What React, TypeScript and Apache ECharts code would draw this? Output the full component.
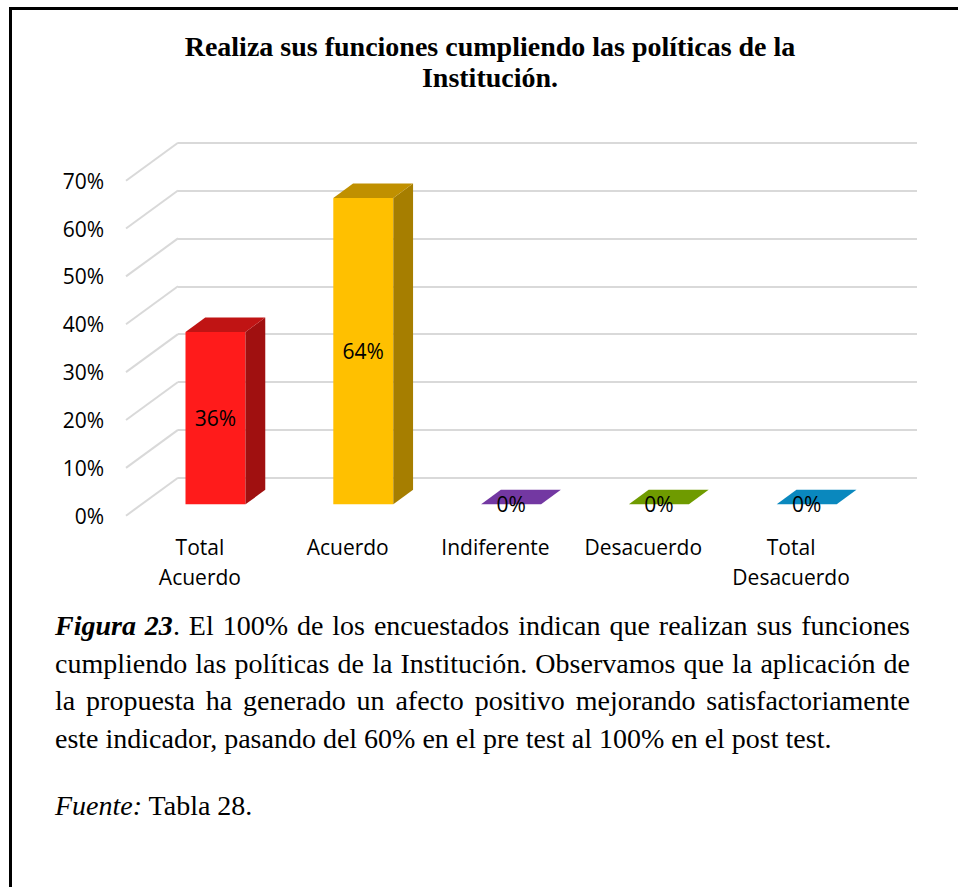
import React, { useEffect, useRef } from "react";
import * as echarts from "echarts";

const categories = ["Total Acuerdo", "Acuerdo", "Indiferente", "Desacuerdo", "Total Desacuerdo"];
const values = [36, 64, 0, 0, 0];
const yTicks = [0, 10, 20, 30, 40, 50, 60, 70];
const frontColors = ["#FF1B1B", "#FFC000", "#9245C8", "#8CC000", "#10A8E8"];
const topColors = ["#C01414", "#C09000", "#7338A2", "#6F9B00", "#0A88BE"];
const sideColors = ["#A01010", "#A67E00", "#5A2880", "#587C00", "#086C98"];
const titleText = "Realiza sus funciones cumpliendo las políticas de la\nInstitución.";

const DEPTH = [-52, 38];
const FRONT = 0.7;
const BACK = 0.32;
const BAR_HALF = 0.203;
const LABEL_FONT = '21px "Open Sans"';

export default function App() {
  const ref = useRef<HTMLDivElement>(null);

  useEffect(() => {
    if (!ref.current) return;
    const chart = echarts.init(ref.current, undefined, { renderer: "svg" });
    const option: any = {
      animation: false,
      backgroundColor: "#fff",
      grid: [
        { left: 178, top: 142.7, width: 739, height: 335 },
        { left: 126, top: 180.7, width: 739, height: 335 },
      ],
      xAxis: [
        {
          gridIndex: 0,
          type: "category",
          data: categories,
          axisLine: { show: false },
          axisTick: { show: false },
          axisLabel: { show: false },
        },
        {
          gridIndex: 1,
          type: "category",
          data: categories,
          axisLine: { show: false },
          axisTick: { show: false },
          axisLabel: {
            interval: 0,
            margin: 16,
            color: "#000",
            fontFamily: "Open Sans",
            fontSize: 21,
            lineHeight: 30,
            formatter: (v: string) => v.replace("Total ", "Total\n"),
          },
        },
      ],
      yAxis: [
        {
          gridIndex: 0,
          type: "value",
          min: 0,
          max: 70,
          interval: 10,
          axisLine: { show: false },
          axisTick: { show: false },
          axisLabel: { show: false },
          splitLine: { show: true, lineStyle: { color: "#d9d9d9", width: 2 } },
        },
        {
          gridIndex: 1,
          type: "value",
          min: 0,
          max: 70,
          interval: 10,
          axisLine: { show: false },
          axisTick: { show: false },
          splitLine: { show: false },
          axisLabel: {
            margin: 22,
            color: "#000",
            fontFamily: "Open Sans",
            fontSize: 21,
            formatter: "{value}%",
          },
        },
      ],
      series: [
        {
          type: "custom",
          xAxisIndex: 0,
          yAxisIndex: 0,
          clip: false,
          z: 1,
          data: yTicks.map((v) => [0, v]),
          renderItem: (params: any, api: any) => {
            const y = api.coord([0, api.value(1)])[1];
            const x0 = params.coordSys.x;
            return {
              type: "line",
              shape: { x1: x0, y1: y, x2: x0 + DEPTH[0], y2: y + DEPTH[1] },
              style: { stroke: "#d9d9d9", lineWidth: 2 },
            };
          },
        },
        {
          type: "custom",
          xAxisIndex: 0,
          yAxisIndex: 0,
          clip: false,
          z: 5,
          data: values.map((v, i) => [i, v]),
          renderItem: (params: any, api: any) => {
            const cat = api.value(0);
            const v = api.value(1);
            const idx = params.dataIndex;
            const base = api.coord([cat, 0]);
            const top = api.coord([cat, v]);
            const band = api.size([1, 0])[0];
            const hw = band * BAR_HALF;
            const fx = base[0] + DEPTH[0] * FRONT;
            const fb = base[1] + DEPTH[1] * FRONT;
            const ft = top[1] + DEPTH[1] * FRONT;
            const dx = DEPTH[0] * (BACK - FRONT);
            const dy = DEPTH[1] * (BACK - FRONT);
            const children: any[] = [];
            if (v > 0) {
              children.push({
                type: "rect",
                shape: { x: fx - hw, y: ft, width: hw * 2, height: fb - ft },
                style: { fill: frontColors[idx] },
              });
              children.push({
                type: "polygon",
                shape: {
                  points: [
                    [fx + hw, ft],
                    [fx + hw + dx, ft + dy],
                    [fx + hw + dx, fb + dy],
                    [fx + hw, fb],
                  ],
                },
                style: { fill: sideColors[idx] },
              });
            }
            children.push({
              type: "polygon",
              shape: {
                points: [
                  [fx - hw, ft],
                  [fx + hw, ft],
                  [fx + hw + dx, ft + dy],
                  [fx - hw + dx, ft + dy],
                ],
              },
              style: { fill: topColors[idx] },
            });
            children.push({
              type: "text",
              z2: 10,
              style: {
                text: v + "%",
                x: fx,
                y: v > 0 ? (ft + fb) / 2 : fb,
                align: "center",
                verticalAlign: "middle",
                font: LABEL_FONT,
                fill: "#000",
              },
            });
            return { type: "group", children };
          },
        },
      ],
      graphic: [
        { type: "rect", shape: { x: 9, y: 7, width: 3, height: 880 }, style: { fill: "#000" } },
        { type: "rect", shape: { x: 9, y: 7, width: 949, height: 3 }, style: { fill: "#000" } },
        {
          type: "text",
          x: 490,
          y: 31,
          style: {
            text: titleText,
            align: "center",
            verticalAlign: "top",
            font: 'bold 28px "Liberation Serif"',
            lineHeight: 31,
            fill: "#000",
          },
        },
      ],
    };
    chart.setOption(option);
    return () => chart.dispose();
  }, []);

  const lineStyle: React.CSSProperties = {
    height: 37.5,
    lineHeight: "37.5px",
    textAlign: "justify",
    textAlignLast: "justify" as any,
    whiteSpace: "normal",
  };

  return (
    <div style={{ position: "fixed", left: 0, top: 0, width: 958, height: 887, background: "#fff" }}>
      <div ref={ref} style={{ position: "absolute", left: 0, top: 0, width: 958, height: 887 }} />
      <div
        style={{
          position: "absolute",
          left: 55,
          top: 607,
          width: 855,
          fontFamily: '"Liberation Serif", "Times New Roman", serif',
          fontSize: 28,
          color: "#000",
        }}
      >
        <div style={lineStyle}>
          <b><i>Figura 23</i></b>. El 100% de los encuestados indican que realizan sus funciones
        </div>
        <div style={lineStyle}>
          cumpliendo las políticas de la Institución. Observamos que la aplicación de
        </div>
        <div style={lineStyle}>
          la propuesta ha generado un afecto positivo mejorando satisfactoriamente
        </div>
        <div style={{ ...lineStyle, textAlign: "left", textAlignLast: "left" as any, whiteSpace: "nowrap" }}>
          este indicador, pasando del 60% en el pre test al 100% en el post test.
        </div>
        <div style={{ position: "absolute", left: 0, top: 180, lineHeight: "37.5px", whiteSpace: "nowrap" }}>
          <i>Fuente:</i> Tabla 28.
        </div>
      </div>
    </div>
  );
}
